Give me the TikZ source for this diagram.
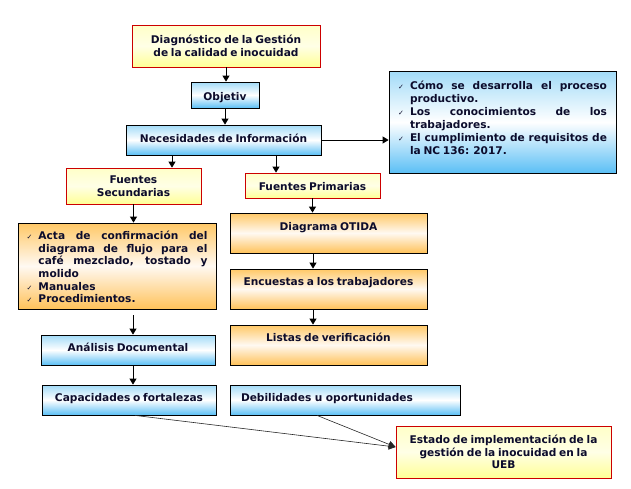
\documentclass[tikz,border=0pt]{standalone}
\usepackage{fontspec}
\setmainfont{DejaVu Sans}[WordSpace={0.75,1.5,0.8}]
\newfontfamily\checkfont{DejaVu Sans}
\usetikzlibrary{arrows.meta,calc}
\definecolor{txt}{HTML}{0C0C2C}
\definecolor{redb}{HTML}{CC0000}
\definecolor{bluetop}{HTML}{A2DBF8}
\definecolor{bluebot}{HTML}{5BBFF5}
\definecolor{orgtop}{HTML}{FFC866}
\definecolor{orgmid}{HTML}{FFF9F2}
\definecolor{orgbot}{HTML}{FFC25A}
\definecolor{yeltop}{HTML}{FFFFC8}
\definecolor{yelmid}{HTML}{FFFFE6}
\definecolor{yelbot}{HTML}{FFFF96}
\newcommand\chk[1]{\par\hangindent=12pt\hangafter=1\noindent\makebox[12pt][l]{\checkfont\fontsize{7}{7}\selectfont\mdseries ✓}#1\par}
\tikzset{
  box/.style={draw, line width=0.8pt, inner sep=0pt, text=txt, align=center},
  bluebox/.style={box, draw=black, top color=bluetop, bottom color=bluebot, middle color=white},
  orgbox/.style={box, draw=black, top color=orgtop, bottom color=orgbot, middle color=orgmid},
  yelbox/.style={box, draw=redb, top color=yeltop, bottom color=yelbot, middle color=yelmid},
  arr/.style={-{Triangle[length=6pt,width=7pt]}, line width=0.9pt, draw=black},
  thinarr/.style={-{Triangle[length=7pt,width=7pt]}, line width=0.6pt, draw=black!85},
}
\begin{document}
\begin{tikzpicture}[x=1pt,y=-1pt,font=\bfseries\fontsize{10.6}{12.8}\selectfont]
\useasboundingbox (0,0) rectangle (631,488);
\node[yelbox, minimum width=188pt, minimum height=42pt] (diag) at (226,46) {Diagnóstico de la Gestión\\de la calidad e inocuidad};
\node[bluebox, minimum width=68pt, text height=18pt, text depth=8pt] (obj) at (225,95) {Objetiv};
\node[bluebox, minimum width=195pt, text height=17pt, text depth=13pt] (nec) at (223.5,140) {Necesidades de Información};
\node[yelbox, minimum width=135pt, minimum height=36pt] (fs) at (133.5,186) {Fuentes\\Secundarias};
\node[yelbox, minimum width=135pt, text height=17pt, text depth=8pt] (fp) at (312.5,185.5) {Fuentes Primarias};
\node[bluebox, minimum width=227pt, minimum height=102pt] (rb) at (502.5,122)
  {\parbox[c][82pt][t]{209pt}{\tolerance=9999\hyphenpenalty=10000\exhyphenpenalty=10000\baselineskip=13pt
   \chk{Cómo se desarrolla el proceso productivo.}\chk{Los conocimientos de los trabajadores.}\chk{El cumplimiento de requisitos de la NC 136: 2017.}}};
\node[orgbox, minimum width=198pt, minimum height=86pt] (lst) at (117,266)
  {\parbox[c][70pt][t]{181pt}{\tolerance=9999\hyphenpenalty=10000\exhyphenpenalty=10000\baselineskip=12.7pt
   \chk{Acta de confirmación del diagrama de flujo para el café mezclado, tostado y molido}\chk{Manuales}\chk{Procedimientos.}}};
\node[orgbox, minimum width=197pt, text height=17pt, text depth=23pt] (otida) at (328.5,233) {Diagrama OTIDA};
\node[orgbox, minimum width=197pt, text height=16pt, text depth=24pt] (enc) at (328.5,289) {Encuestas a los trabajadores};
\node[orgbox, minimum width=197pt, text height=16pt, text depth=24pt] (lv) at (328.5,345) {Listas de verificación};
\node[bluebox, minimum width=174pt, text height=16pt, text depth=14pt] (ana) at (128,350) {Análisis Documental};
\node[bluebox, minimum width=174pt, text height=16pt, text depth=14pt] (cap) at (129,400) {Capacidades o fortalezas};
\node[bluebox, text width=208pt, inner xsep=11pt, align=left, text height=16pt, text depth=14pt] (deb) at (345,400) {Debilidades u oportunidades};
\node[yelbox, minimum width=215pt, minimum height=52pt] (est) at (503.5,452) {Estado de implementación de la\\gestión de la inocuidad en la\\UEB};
% connectors
\draw[arr] (diag.south) -- (diag.south |- obj.north);
\draw[arr] (obj.south) -- (obj.south |- nec.north);
\draw[arr] ([xshift=-51.5pt]nec.south) -- ([xshift=-51.5pt]nec.south |- fs.north);
\draw[arr] ([xshift=52.5pt]nec.south) -- ([xshift=52.5pt]nec.south |- fp.north);
\draw[arr] (nec.east) -- (nec.east -| rb.west);
\draw[arr] (fs.south) -- (fs.south |- lst.north);
\draw[arr] (fp.south) -- (fp.south |- otida.north);
\draw[arr] ([xshift=-15.5pt]otida.south) -- ([xshift=-15.5pt]otida.south |- enc.north);
\draw[arr] ([xshift=-15.5pt]enc.south) -- ([xshift=-15.5pt]enc.south |- lv.north);
\draw[arr] ([xshift=16pt,yshift=-6pt]lst.south) -- ([xshift=16pt]lst.south |- ana.north);
\draw[arr] ([xshift=5pt]ana.south) -- ([xshift=5pt]ana.south |- cap.north);
\draw[thinarr] ([xshift=6pt]cap.south) -- ([yshift=5pt]est.west);
\draw[thinarr] ([xshift=-28pt]deb.south) -- ([yshift=5pt]est.west);
\end{tikzpicture}
\end{document}
